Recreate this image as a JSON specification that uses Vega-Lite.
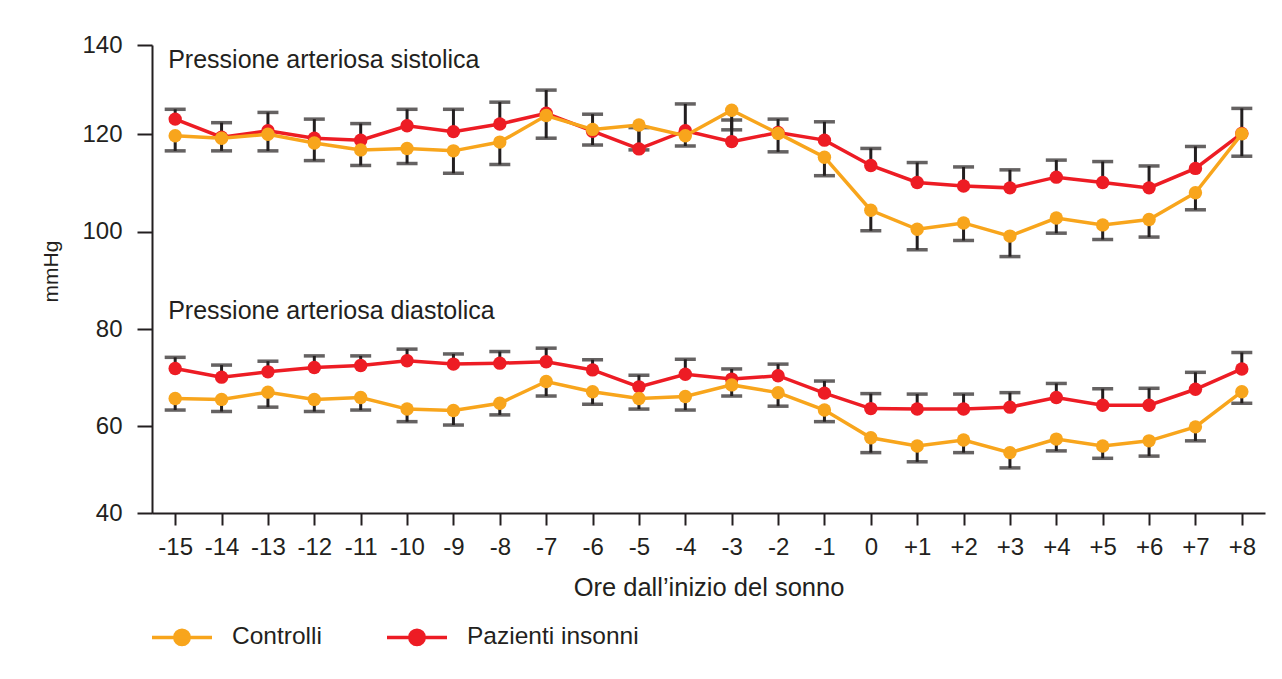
{
  "$schema": "https://vega.github.io/schema/vega-lite/v6.json",
  "width": 1113,
  "height": 468,
  "autosize": {"type": "none"},
  "padding": {"left": 152, "top": 45, "right": 17, "bottom": 166},
  "background": "white",
  "config": {
    "view": {"stroke": null},
    "font": "Liberation Sans",
    "axis": {"domainColor": "#231f20", "domainWidth": 2, "tickColor": "#231f20", "tickWidth": 2, "labelColor": "#231f20", "labelFontSize": 24, "labelFont": "Liberation Sans", "titleFont": "Liberation Sans", "titleColor": "#231f20", "titleFontWeight": "normal", "grid": false},
    "axisX": {"tickSize": 12, "labelPadding": 10, "titleFontSize": 25.5, "titlePadding": 16, "labelAngle": 0},
    "axisY": {"tickSize": 15, "labelPadding": 15, "titleFontSize": 21, "titlePadding": 20, "titleY": 226}
  },
  "datasets": {
    "bp": [
      {"h":"-15","g":"Pazienti insonni","m":"s","v":123.4,"e":125.6},
      {"h":"-14","g":"Pazienti insonni","m":"s","v":119.4,"e":122.6},
      {"h":"-13","g":"Pazienti insonni","m":"s","v":120.8,"e":124.9},
      {"h":"-12","g":"Pazienti insonni","m":"s","v":119.2,"e":123.4},
      {"h":"-11","g":"Pazienti insonni","m":"s","v":118.8,"e":122.4},
      {"h":"-10","g":"Pazienti insonni","m":"s","v":121.9,"e":125.6},
      {"h":"-9","g":"Pazienti insonni","m":"s","v":120.6,"e":125.6},
      {"h":"-8","g":"Pazienti insonni","m":"s","v":122.3,"e":127.2},
      {"h":"-7","g":"Pazienti insonni","m":"s","v":124.7,"e":129.9},
      {"h":"-6","g":"Pazienti insonni","m":"s","v":120.7,"e":124.5},
      {"h":"-5","g":"Pazienti insonni","m":"s","v":117.0,"e":121.5},
      {"h":"-4","g":"Pazienti insonni","m":"s","v":120.8,"e":126.8},
      {"h":"-3","g":"Pazienti insonni","m":"s","v":118.5,"e":123.2},
      {"h":"-2","g":"Pazienti insonni","m":"s","v":120.4,"e":123.4},
      {"h":"-1","g":"Pazienti insonni","m":"s","v":118.8,"e":122.8},
      {"h":"0","g":"Pazienti insonni","m":"s","v":113.6,"e":117.1},
      {"h":"+1","g":"Pazienti insonni","m":"s","v":110.1,"e":114.2},
      {"h":"+2","g":"Pazienti insonni","m":"s","v":109.4,"e":113.3},
      {"h":"+3","g":"Pazienti insonni","m":"s","v":109.0,"e":112.7},
      {"h":"+4","g":"Pazienti insonni","m":"s","v":111.2,"e":114.7},
      {"h":"+5","g":"Pazienti insonni","m":"s","v":110.1,"e":114.4},
      {"h":"+6","g":"Pazienti insonni","m":"s","v":109.0,"e":113.5},
      {"h":"+7","g":"Pazienti insonni","m":"s","v":113.0,"e":117.5},
      {"h":"+8","g":"Pazienti insonni","m":"s","v":120.2,"e":125.8},
      {"h":"-15","g":"Controlli","m":"s","v":119.7,"e":116.6},
      {"h":"-14","g":"Controlli","m":"s","v":119.2,"e":116.6},
      {"h":"-13","g":"Controlli","m":"s","v":120.0,"e":116.6},
      {"h":"-12","g":"Controlli","m":"s","v":118.2,"e":114.6},
      {"h":"-11","g":"Controlli","m":"s","v":116.8,"e":113.6},
      {"h":"-10","g":"Controlli","m":"s","v":117.1,"e":114.0},
      {"h":"-9","g":"Controlli","m":"s","v":116.6,"e":112.0},
      {"h":"-8","g":"Controlli","m":"s","v":118.4,"e":113.8},
      {"h":"-7","g":"Controlli","m":"s","v":124.2,"e":119.2},
      {"h":"-6","g":"Controlli","m":"s","v":121.1,"e":117.8},
      {"h":"-5","g":"Controlli","m":"s","v":122.1,"e":116.8},
      {"h":"-4","g":"Controlli","m":"s","v":119.7,"e":117.6},
      {"h":"-3","g":"Controlli","m":"s","v":125.4,"e":121.0},
      {"h":"-2","g":"Controlli","m":"s","v":120.2,"e":116.4},
      {"h":"-1","g":"Controlli","m":"s","v":115.3,"e":111.5},
      {"h":"0","g":"Controlli","m":"s","v":104.4,"e":100.2},
      {"h":"+1","g":"Controlli","m":"s","v":100.5,"e":96.3},
      {"h":"+2","g":"Controlli","m":"s","v":101.8,"e":98.2},
      {"h":"+3","g":"Controlli","m":"s","v":99.1,"e":94.9},
      {"h":"+4","g":"Controlli","m":"s","v":102.8,"e":99.7},
      {"h":"+5","g":"Controlli","m":"s","v":101.4,"e":98.4},
      {"h":"+6","g":"Controlli","m":"s","v":102.5,"e":98.9},
      {"h":"+7","g":"Controlli","m":"s","v":108.0,"e":104.5},
      {"h":"+8","g":"Controlli","m":"s","v":120.1,"e":115.5},
      {"h":"-15","g":"Pazienti insonni","m":"d","v":71.9,"e":74.2},
      {"h":"-14","g":"Pazienti insonni","m":"d","v":70.1,"e":72.6},
      {"h":"-13","g":"Pazienti insonni","m":"d","v":71.2,"e":73.4},
      {"h":"-12","g":"Pazienti insonni","m":"d","v":72.1,"e":74.5},
      {"h":"-11","g":"Pazienti insonni","m":"d","v":72.5,"e":74.5},
      {"h":"-10","g":"Pazienti insonni","m":"d","v":73.5,"e":75.9},
      {"h":"-9","g":"Pazienti insonni","m":"d","v":72.8,"e":74.9},
      {"h":"-8","g":"Pazienti insonni","m":"d","v":73.0,"e":75.4},
      {"h":"-7","g":"Pazienti insonni","m":"d","v":73.3,"e":76.1},
      {"h":"-6","g":"Pazienti insonni","m":"d","v":71.6,"e":73.7},
      {"h":"-5","g":"Pazienti insonni","m":"d","v":68.1,"e":70.5},
      {"h":"-4","g":"Pazienti insonni","m":"d","v":70.7,"e":73.8},
      {"h":"-3","g":"Pazienti insonni","m":"d","v":69.7,"e":71.8},
      {"h":"-2","g":"Pazienti insonni","m":"d","v":70.4,"e":72.8},
      {"h":"-1","g":"Pazienti insonni","m":"d","v":66.8,"e":69.3},
      {"h":"0","g":"Pazienti insonni","m":"d","v":63.6,"e":66.7},
      {"h":"+1","g":"Pazienti insonni","m":"d","v":63.5,"e":66.6},
      {"h":"+2","g":"Pazienti insonni","m":"d","v":63.5,"e":66.6},
      {"h":"+3","g":"Pazienti insonni","m":"d","v":63.9,"e":66.9},
      {"h":"+4","g":"Pazienti insonni","m":"d","v":65.9,"e":68.8},
      {"h":"+5","g":"Pazienti insonni","m":"d","v":64.3,"e":67.7},
      {"h":"+6","g":"Pazienti insonni","m":"d","v":64.3,"e":67.8},
      {"h":"+7","g":"Pazienti insonni","m":"d","v":67.6,"e":71.1},
      {"h":"+8","g":"Pazienti insonni","m":"d","v":71.8,"e":75.2},
      {"h":"-15","g":"Controlli","m":"d","v":65.7,"e":63.3},
      {"h":"-14","g":"Controlli","m":"d","v":65.5,"e":63.0},
      {"h":"-13","g":"Controlli","m":"d","v":67.0,"e":63.9},
      {"h":"-12","g":"Controlli","m":"d","v":65.5,"e":63.0},
      {"h":"-11","g":"Controlli","m":"d","v":65.9,"e":63.3},
      {"h":"-10","g":"Controlli","m":"d","v":63.5,"e":60.9},
      {"h":"-9","g":"Controlli","m":"d","v":63.2,"e":60.2},
      {"h":"-8","g":"Controlli","m":"d","v":64.7,"e":62.3},
      {"h":"-7","g":"Controlli","m":"d","v":69.2,"e":66.2},
      {"h":"-6","g":"Controlli","m":"d","v":67.1,"e":64.5},
      {"h":"-5","g":"Controlli","m":"d","v":65.7,"e":63.5},
      {"h":"-4","g":"Controlli","m":"d","v":66.1,"e":63.3},
      {"h":"-3","g":"Controlli","m":"d","v":68.5,"e":66.2},
      {"h":"-2","g":"Controlli","m":"d","v":66.9,"e":64.1},
      {"h":"-1","g":"Controlli","m":"d","v":63.3,"e":60.9},
      {"h":"0","g":"Controlli","m":"d","v":57.3,"e":53.9},
      {"h":"+1","g":"Controlli","m":"d","v":55.4,"e":51.8},
      {"h":"+2","g":"Controlli","m":"d","v":56.8,"e":53.9},
      {"h":"+3","g":"Controlli","m":"d","v":53.9,"e":50.4},
      {"h":"+4","g":"Controlli","m":"d","v":57.0,"e":54.3},
      {"h":"+5","g":"Controlli","m":"d","v":55.4,"e":52.6},
      {"h":"+6","g":"Controlli","m":"d","v":56.6,"e":53.1},
      {"h":"+7","g":"Controlli","m":"d","v":59.8,"e":56.6},
      {"h":"+8","g":"Controlli","m":"d","v":67.1,"e":64.7}
    ],
    "labels": [
      {"h":"-15","v":136.6,"t":"Pressione arteriosa sistolica"},
      {"h":"-15","v":83.75,"t":"Pressione arteriosa diastolica"}
    ]
  },
  "data": {"name": "bp"},
  "encoding": {
    "x": {"field": "h", "type": "nominal", "title": "Ore dall’inizio del sonno",
      "scale": {"type": "point", "padding": 0.5, "domain": ["-15","-14","-13","-12","-11","-10","-9","-8","-7","-6","-5","-4","-3","-2","-1","0","+1","+2","+3","+4","+5","+6","+7","+8"]}}
  },
  "layer": [
    {
      "mark": {"type": "rule", "color": "#231f20", "strokeWidth": 3},
      "encoding": {
        "y": {"field": "v", "type": "quantitative", "title": "mmHg",
          "scale": {"domain": [40, 60, 80, 100, 120, 140], "range": [468.3, 381, 284.3, 186.7, 89.3, 0], "zero": false, "nice": false},
          "axis": {"values": [40, 60, 80, 100, 120, 140]}},
        "y2": {"field": "e"}
      }
    },
    {
      "mark": {"type": "tick", "color": "#231f20", "size": 21, "thickness": 3.5},
      "encoding": {"y": {"field": "e", "type": "quantitative"}}
    },
    {
      "transform": [{"filter": "datum.g === 'Pazienti insonni'"}],
      "mark": {"type": "line", "strokeWidth": 3.5},
      "encoding": {
        "y": {"field": "v", "type": "quantitative"},
        "detail": {"field": "m"},
        "color": {"field": "g", "type": "nominal",
          "scale": {"domain": ["Controlli", "Pazienti insonni"], "range": ["#f8a51c", "#ed1c24"]},
          "legend": {"orient": "none", "legendX": -2, "legendY": 560, "direction": "horizontal", "title": null, "padding": 0,
            "symbolType": "M-1,0H1M0.24,0A0.24,0.24,0,1,1,-0.24,0A0.24,0.24,0,1,1,0.24,0Z",
            "symbolSize": 3600, "symbolStrokeWidth": 3.5, "labelFontSize": 24.5, "labelFont": "Liberation Sans", "labelColor": "#231f20", "labelOffset": 18, "columnPadding": 58, "labelLimit": 400,
            "encode": {"symbols": {"update": {"fill": {"scale": "color", "field": "value"}, "stroke": {"scale": "color", "field": "value"}, "opacity": {"value": 1}}}}}
        }
      }
    },
    {
      "transform": [{"filter": "datum.g === 'Pazienti insonni'"}],
      "mark": {"type": "point", "filled": true, "opacity": 1, "size": 180},
      "encoding": {
        "y": {"field": "v", "type": "quantitative"},
        "color": {"field": "g", "type": "nominal", "legend": null}
      }
    },
    {
      "transform": [{"filter": "datum.g === 'Controlli'"}],
      "mark": {"type": "line", "strokeWidth": 3.5},
      "encoding": {
        "y": {"field": "v", "type": "quantitative"},
        "detail": {"field": "m"},
        "color": {"field": "g", "type": "nominal", "legend": null}
      }
    },
    {
      "transform": [{"filter": "datum.g === 'Controlli'"}],
      "mark": {"type": "point", "filled": true, "opacity": 1, "size": 180},
      "encoding": {
        "y": {"field": "v", "type": "quantitative"},
        "color": {"field": "g", "type": "nominal", "legend": null}
      }
    },
    {
      "data": {"name": "labels"},
      "mark": {"type": "text", "align": "left", "baseline": "middle", "dx": -7, "fontSize": 25, "font": "Liberation Sans", "color": "#231f20"},
      "encoding": {
        "y": {"field": "v", "type": "quantitative"},
        "text": {"field": "t"}
      }
    }
  ]
}
